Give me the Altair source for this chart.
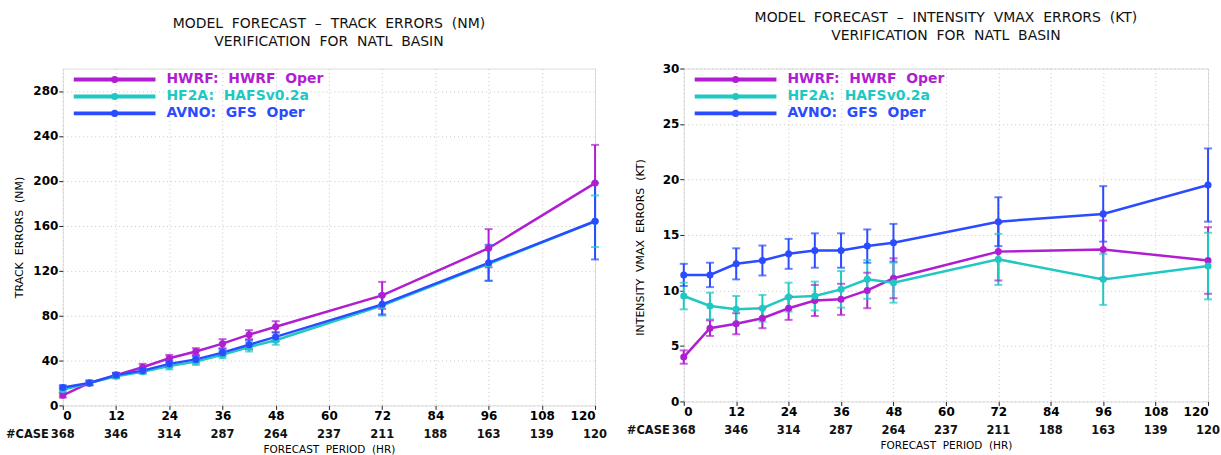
import altair as alt
import pandas as pd

# ---------------- data ----------------
hours = [0, 6, 12, 18, 24, 30, 36, 42, 48, 72, 96, 120]
models = ["HWRF", "HF2A", "AVNO"]
legend_labels = ["HWRF:\u00a0\u00a0HWRF\u00a0\u00a0Oper", "HF2A:\u00a0\u00a0HAFSv0.2a", "AVNO:\u00a0\u00a0GFS\u00a0\u00a0Oper"]
colors = ["#B01ED2", "#1FC8C2", "#2A4BFF"]

# track errors (NM)
trk_hwrf = [9, 20, 27, 34, 42, 48, 55, 63, 70, 98, 140, 198]
trk_hf2a = [14, 20, 26, 30, 35, 39, 45, 52, 58, 89, 126, 164]
trk_avno = [16, 20, 27, 31, 37, 41, 47, 54, 61, 90, 127, 164]
trk_ci_hwrf = [2, 2, 2, 3, 3, 3, 4, 4, 5, 12, 17, 34]
trk_ci_hf2a = [2, 2, 2, 2, 3, 3, 3, 4, 4, 9, 15, 23]
trk_ci_avno = [2, 2, 2, 2, 3, 3, 3, 4, 4, 9, 16, 34]

# intensity vmax errors (KT)
int_hwrf = [4.0, 6.6, 7.0, 7.5, 8.4, 9.1, 9.2, 10.0, 11.1, 13.5, 13.7, 12.7]
int_hf2a = [9.5, 8.6, 8.3, 8.4, 9.4, 9.5, 10.1, 11.0, 10.7, 12.8, 11.0, 12.2]
int_avno = [11.4, 11.4, 12.4, 12.7, 13.3, 13.6, 13.6, 14.0, 14.3, 16.2, 16.9, 19.5]
int_ci_hwrf = [0.6, 0.7, 0.95, 0.9, 1.05, 1.4, 1.4, 1.6, 1.8, 2.6, 2.6, 3.0]
int_ci_hf2a = [1.2, 1.2, 1.2, 1.2, 1.3, 1.3, 1.65, 1.75, 1.8, 2.3, 2.3, 3.0]
int_ci_avno = [1.0, 1.1, 1.4, 1.35, 1.35, 1.55, 1.55, 1.5, 1.7, 2.2, 2.5, 3.3]

tick_hours = [0, 12, 24, 36, 48, 60, 72, 84, 96, 108, 120]
case_counts = [368, 346, 314, 287, 264, 237, 211, 188, 163, 139, 120]

FONT = "DejaVu Sans"
NB = "\u00a0\u00a0"


def long_df(series, cis):
    rows = []
    for m, vals, ci in zip(models, series, cis):
        for h, v, c in zip(hours, vals, ci):
            rows.append({"hour": h, "model": m, "value": v, "lo": v - c, "hi": v + c})
    return pd.DataFrame(rows)


def panel(df, ymax, ystep, ytitle, title, width, height, ytitle_shift):
    color = alt.Color("model:N", scale=alt.Scale(domain=models, range=colors), legend=None)
    x = alt.X(
        "hour:Q",
        scale=alt.Scale(domain=[0, 120], nice=False),
        axis=alt.Axis(
            values=tick_hours, title=f"FORECAST{NB}PERIOD{NB}(HR)", titleFontSize=10.5,
            titleFontWeight="normal", titleFont=FONT, titleY=44, titleBaseline="middle",
            labelFontSize=12, labelFontWeight="bold", labelFont=FONT, labelPadding=1,
            tickSize=4, tickColor="#222", domain=False,
            grid=True, gridDash=[1, 3], gridColor="#c8c8c8",
        ),
    )
    yvals = [v for v in range(0, ymax + 1, ystep) if v < ymax or ymax == 30]
    y = alt.Y(
        "value:Q",
        scale=alt.Scale(domain=[0, ymax], nice=False),
        axis=alt.Axis(
            values=yvals,
            title=ytitle, titleFontSize=11, titleFontWeight="normal", titleFont=FONT,
            titleX=-43, titleY=height / 2 + ytitle_shift, titleAngle=-90,
            titleBaseline="middle", titleAlign="center",
            labelFontSize=12, labelFontWeight="bold", labelFont=FONT, labelPadding=1,
            tickSize=4, tickColor="#222", domain=False, minExtent=59, maxExtent=59,
            grid=True, gridDash=[1, 3], gridColor="#c8c8c8",
        ),
    )
    base = alt.Chart(df)
    lines = base.mark_line(strokeWidth=2.5).encode(x=x, y=y, color=color, detail="model:N")
    bars = base.mark_rule(strokeWidth=2).encode(
        x=x, y=alt.Y("lo:Q"), y2="hi:Q", color=color)
    cap_lo = base.mark_tick(orient="horizontal", size=8, thickness=2).encode(x=x, y="lo:Q", color=color)
    cap_hi = base.mark_tick(orient="horizontal", size=8, thickness=2).encode(x=x, y="hi:Q", color=color)
    pts = base.mark_circle(size=50, opacity=1).encode(x=x, y=y, color=color)

    layers = [lines, bars, cap_lo, cap_hi, pts]

    # legend drawn inside the plot (top-left)
    for i, (lab, col) in enumerate(zip(legend_labels, colors)):
        ld = pd.DataFrame({"label": [lab]})
        yy = 11 + 17 * i
        layers.append(alt.Chart(ld).mark_rule(strokeWidth=4, color=col).encode(
            x=alt.value(11), x2=alt.value(93), y=alt.value(yy)))
        layers.append(alt.Chart(ld).mark_circle(size=50, opacity=1, color=col).encode(
            x=alt.value(52), y=alt.value(yy)))
        layers.append(alt.Chart(ld).mark_text(
            align="left", baseline="middle", font=FONT, fontSize=14, fontWeight="bold", color=col
        ).encode(x=alt.value(104), y=alt.value(yy), text="label:N"))

    cdf = pd.DataFrame({"hour": tick_hours, "n": [str(c) for c in case_counts]})
    cases = alt.Chart(cdf).mark_text(
        baseline="middle", font=FONT, fontSize=11.5, fontWeight="bold", color="#111"
    ).encode(x=x, y=alt.value(height + 30), text="n:N")
    case_lab = alt.Chart(pd.DataFrame({"t": ["#CASE"]})).mark_text(
        align="right", baseline="middle", font=FONT, fontSize=11.5, fontWeight="bold", color="#111"
    ).encode(x=alt.value(-14), y=alt.value(height + 30), text="t:N")
    layers += [cases, case_lab]

    return alt.layer(*layers).properties(
        width=width, height=height,
        title=alt.TitleParams(
            text=title, fontSize=14, font=FONT, fontWeight="normal", anchor="middle",
            frame="group", offset=20, lineHeight=18, color="#111",
        ),
    )


left = panel(
    long_df([trk_hwrf, trk_hf2a, trk_avno], [trk_ci_hwrf, trk_ci_hf2a, trk_ci_avno]),
    300, 40, f"TRACK{NB}ERRORS{NB}(NM)",
    [f"MODEL{NB}FORECAST{NB}\u2013{NB}TRACK{NB}ERRORS{NB}(NM)", f"VERIFICATION{NB}FOR{NB}NATL{NB}BASIN"],
    534, 338, 0,
)
right = panel(
    long_df([int_hwrf, int_hf2a, int_avno], [int_ci_hwrf, int_ci_hf2a, int_ci_avno]),
    30, 5, f"INTENSITY{NB}VMAX{NB}ERRORS{NB}(KT)",
    [f"MODEL{NB}FORECAST{NB}\u2013{NB}INTENSITY{NB}VMAX{NB}ERRORS{NB}(KT)", f"VERIFICATION{NB}FOR{NB}NATL{NB}BASIN"],
    526, 334, 12,
)

chart = alt.hconcat(left, right, spacing=16).properties(
    padding={"left": 3, "top": 9, "right": 0, "bottom": 0}
).configure_view(stroke="#555", strokeWidth=2).configure(background="white")

chart.save("out.html", embed_options={"renderer": "svg", "actions": False})
